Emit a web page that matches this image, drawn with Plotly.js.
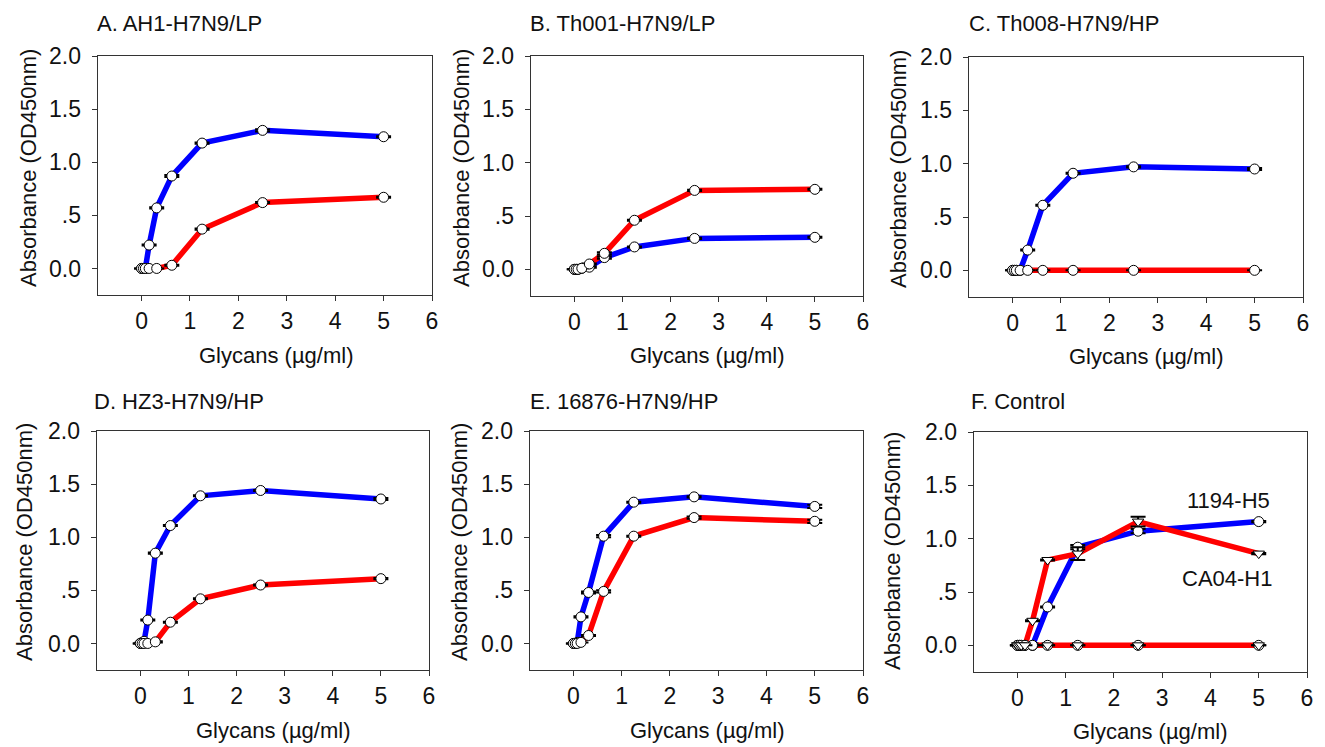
<!DOCTYPE html>
<html><head><meta charset="utf-8">
<script src="https://cdn.plot.ly/plotly-3.0.1.min.js"></script>
<style>html,body{margin:0;padding:0;background:#fff}</style>
</head><body><div id="chart" style="width:1325px;height:747px"></div>
<script>
// ---- data ----
const conc = [0, 0.039, 0.078, 0.156, 0.3125, 0.625, 1.25, 2.5, 5];
const panelTitles = ["A. AH1-H7N9/LP", "B. Th001-H7N9/LP", "C. Th008-H7N9/HP",
                     "D. HZ3-H7N9/HP", "E. 16876-H7N9/HP", "F. Control"];
const xTitle = "Glycans (µg/ml)";
const yTitle = "Absorbance (OD450nm)";
const xTickVals = [0, 1, 2, 3, 4, 5, 6];
const xTickText = ["0", "1", "2", "3", "4", "5", "6"];
const yTickVals = [0, 0.5, 1.0, 1.5, 2.0];
const yTickText = ["0.0", ".5", "1.0", "1.5", "2.0"];

const aBlue = [0, 0, 0, 0.22, 0.57, 0.87, 1.18, 1.30, 1.24];
const aRed  = [0, 0, 0, 0, 0, 0.03, 0.37, 0.62, 0.67];
const bBlue = [0, 0, 0, 0.01, 0.02, 0.11, 0.21, 0.29, 0.30];
const bRed  = [0, 0, 0, 0.01, 0.05, 0.15, 0.46, 0.74, 0.75];
const cBlue = [0, 0, 0, 0, 0.19, 0.61, 0.91, 0.97, 0.95];
const cRed  = [0, 0, 0, 0, 0, 0, 0, 0, 0];
const dBlue = [0, 0.01, 0.02, 0.22, 0.85, 1.11, 1.39, 1.44, 1.36];
const dRed  = [0, 0, 0, 0, 0.015, 0.20, 0.42, 0.55, 0.61];
const eBlue = [0, 0, 0.01, 0.25, 0.48, 1.01, 1.33, 1.38, 1.29];
const eRed  = [0, 0, 0, 0.01, 0.075, 0.49, 1.01, 1.185, 1.15];
const fH5Blue = [0, 0, 0, 0, 0, 0.36, 0.92, 1.07, 1.16];
const fH5Red  = [0, 0, 0, 0, 0, 0, 0, 0, 0];
const fH1Red  = [0, 0, 0, 0, 0.23, 0.80, 0.86, 1.16, 0.86];
const fH1Blue = [0, 0, 0, 0, 0, 0, 0, 0, 0];

const aBlueErr = [0, 0, 0, 0.005, 0.005, 0.01, 0.005, 0.01, 0.005];
const aRedErr  = [0, 0, 0, 0, 0, 0.005, 0.005, 0.005, 0.005];
const bBlueErr = [0, 0, 0, 0, 0.005, 0.01, 0.005, 0.005, 0.005];
const bRedErr  = [0, 0, 0, 0, 0.005, 0.01, 0.005, 0.005, 0.005];
const cBlueErr = [0, 0, 0, 0, 0.005, 0.005, 0.005, 0.005, 0.01];
const cRedErr  = [0, 0, 0, 0, 0, 0, 0, 0, 0];
const dBlueErr = [0, 0, 0, 0.005, 0.005, 0.005, 0.005, 0.005, 0.01];
const dRedErr  = [0, 0, 0, 0, 0.005, 0.005, 0.005, 0.005, 0.005];
const eBlueErr = [0, 0, 0, 0.005, 0.01, 0.01, 0.005, 0.005, 0.015];
const eRedErr  = [0, 0, 0, 0, 0.005, 0.01, 0.005, 0.01, 0.015];
const fH5BlueErr = [0, 0, 0, 0, 0, 0.005, 0.02, 0.02, 0.005];
const fH5RedErr  = [0, 0, 0, 0, 0, 0, 0, 0, 0];
const fH1RedErr  = [0, 0, 0, 0, 0.005, 0.005, 0.06, 0.045, 0.005];
const fH1BlueErr = [0, 0, 0, 0, 0, 0, 0, 0, 0];
const fLabels = ["1194-H5", "CA04-H1"];

// ---- styling ----
const BLUE = "rgb(0,0,255)", RED = "rgb(255,0,0)";
const FONT = "Liberation Sans, Arial, sans-serif";
const W = 1325, H = 747;
const boxes = [ // [left, right, top, bottom] in px
  [98, 432, 56, 295], [531, 863, 56, 296], [969, 1303, 57, 297],
  [97, 429, 431, 670], [530, 863, 431, 670], [974, 1307, 432, 672]
];
const titlePos = [[95, 24], [528, 24], [967, 24], [92, 401], [528, 401], [969, 401]];
const yTitlePos = [[28, 168], [461, 168], [898, 169], [24, 542], [459, 542], [892, 551]];
const xTitlePos = [[276, 355], [707, 355], [1146, 357], [273, 730], [707, 730], [1150, 731]];
const NB = "\u00A0";

const px = v => v / W, py = v => 1 - v / H;

const panels = [
  [{y: aBlue, e: aBlueErr, c: BLUE, m: "circle"}, {y: aRed, e: aRedErr, c: RED, m: "circle"}],
  [{y: bBlue, e: bBlueErr, c: BLUE, m: "circle"}, {y: bRed, e: bRedErr, c: RED, m: "circle"}],
  [{y: cBlue, e: cBlueErr, c: BLUE, m: "circle"}, {y: cRed, e: cRedErr, c: RED, m: "circle"}],
  [{y: dBlue, e: dBlueErr, c: BLUE, m: "circle"}, {y: dRed, e: dRedErr, c: RED, m: "circle"}],
  [{y: eBlue, e: eBlueErr, c: BLUE, m: "circle"}, {y: eRed, e: eRedErr, c: RED, m: "circle"}],
  [{y: fH1Blue, e: fH1BlueErr, c: BLUE, m: "triangle-down", w: 3},
   {y: fH5Red, e: fH5RedErr, c: RED, m: "circle"},
   {y: fH5Blue, e: fH5BlueErr, c: BLUE, m: "circle"},
   {y: fH1Red, e: fH1RedErr, c: RED, m: "triangle-down"}]
];

const traces = [];
const layout = {
  width: W, height: H, margin: {l: 0, r: 0, t: 0, b: 0},
  paper_bgcolor: "#fff", plot_bgcolor: "#fff", showlegend: false,
  font: {family: FONT, color: "#111"}, annotations: []
};

panels.forEach((series, i) => {
  const n = i + 1, xa = "x" + (n === 1 ? "" : n), ya = "y" + (n === 1 ? "" : n);
  series.forEach(s => traces.push({
    x: conc, y: s.y, xaxis: xa, yaxis: ya, type: "scatter", mode: "lines",
    line: {color: s.c, width: s.w || 5.5}, hoverinfo: "skip"
  }));
  const order = (i === 5) ? [1, 0, 2, 3] : series.map((_, k) => k);
  order.forEach(k => {
    const s = series[k];
    traces.push({
      x: conc, y: s.y, xaxis: xa, yaxis: ya, type: "scatter", mode: "markers",
      marker: {symbol: s.m, size: 10, color: "#fff", line: {color: "#000", width: 1}},
      error_y: {type: "data", array: s.e, visible: true, color: "#000", thickness: 2, width: 7.5}
    });
  });
  const b = boxes[i];
  const axCommon = {
    showline: true, mirror: true, linecolor: "#333", linewidth: 1,
    ticks: "outside", ticklen: 5, tickwidth: 1, tickcolor: "#333",
    showgrid: false, zeroline: false, fixedrange: true
  };
  layout["xaxis" + (n === 1 ? "" : n)] = Object.assign({}, axCommon, {
    domain: [px(b[0]), px(b[1])], anchor: ya, range: [-0.9, 6],
    tickmode: "array", tickvals: xTickVals, ticktext: xTickText,
    tickfont: {family: FONT, size: 23, color: "#111"}
  });
  layout["yaxis" + (n === 1 ? "" : n)] = Object.assign({}, axCommon, {
    domain: [py(b[3]), py(b[2])], anchor: xa, range: [-0.25, 2.0],
    tickmode: "array", tickvals: yTickVals, ticktext: yTickText.map(t => t + NB),
    tickfont: {family: FONT, size: 23, color: "#111"}
  });
  layout.annotations.push({
    xref: "paper", yref: "paper", x: px(titlePos[i][0]), y: py(titlePos[i][1]),
    xanchor: "left", yanchor: "middle", showarrow: false, text: panelTitles[i],
    font: {family: FONT, size: 22, color: "#111"}
  });
  layout.annotations.push({
    xref: "paper", yref: "paper", x: px(yTitlePos[i][0]), y: py(yTitlePos[i][1]),
    xanchor: "center", yanchor: "middle", showarrow: false, text: yTitle, textangle: -90,
    font: {family: FONT, size: 22, color: "#111"}
  });
  layout.annotations.push({
    xref: "paper", yref: "paper", x: px(xTitlePos[i][0]), y: py(xTitlePos[i][1]),
    xanchor: "center", yanchor: "middle", showarrow: false, text: xTitle,
    font: {family: FONT, size: 22, color: "#111"}
  });
});
layout.annotations.push({
  xref: "paper", yref: "paper", x: px(1228), y: py(500), xanchor: "center", yanchor: "middle",
  showarrow: false, text: fLabels[0], font: {family: FONT, size: 22, color: "#111"}
});
layout.annotations.push({
  xref: "paper", yref: "paper", x: px(1227), y: py(578), xanchor: "center", yanchor: "middle",
  showarrow: false, text: fLabels[1], font: {family: FONT, size: 22, color: "#111"}
});

Plotly.newPlot("chart", traces, layout, {displayModeBar: false, staticPlot: true});
</script></body></html>
